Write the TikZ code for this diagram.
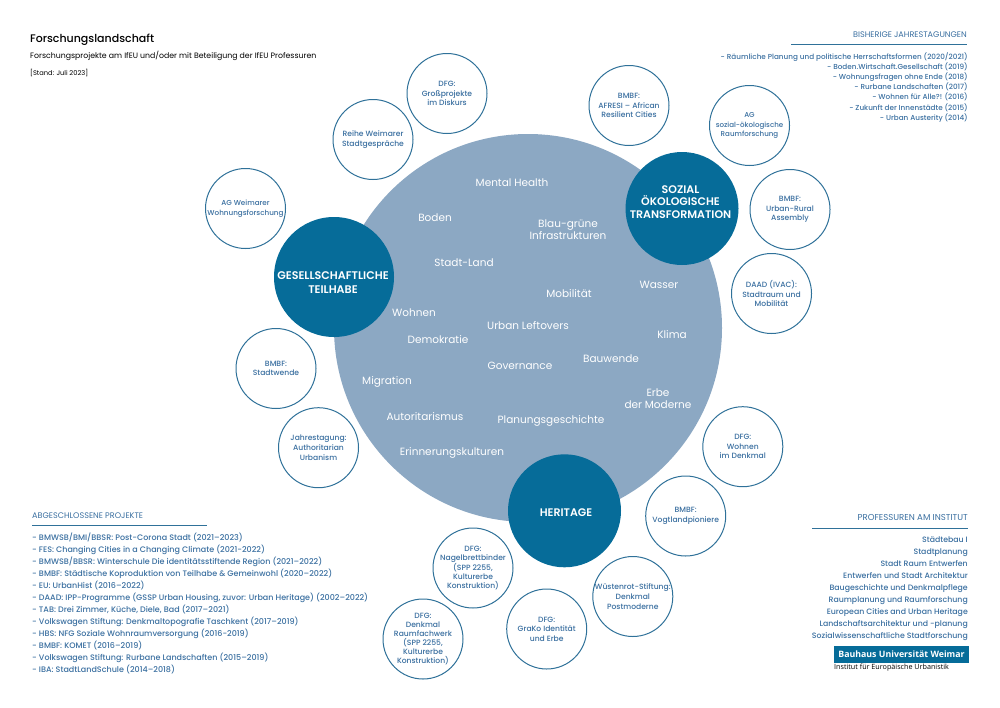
\documentclass[tikz,border=0pt]{standalone}
\usepackage{fontspec}
\setmainfont[BoldFont={Poppins SemiBold}]{Poppins}
\newfontfamily\mediumfont{Poppins Medium}
\newfontfamily\logofont{Open Sans}
\definecolor{ifeublue}{HTML}{3A6FA0}
\definecolor{ifeuteal}{HTML}{066C99}
\definecolor{ifeumain}{HTML}{8CA8C3}
\definecolor{ifeuline}{HTML}{2F7199}
\newcommand{\fsz}[2]{\fontsize{#1}{#2}\selectfont}
\tikzset{
  project/.style={circle,draw=ifeuline,line width=1pt,fill=white,minimum size=80,inner sep=0,align=center,text=ifeublue,font=\mediumfont\fsz{7.6}{9.6}},
  lifted/.style={execute at end node={\par\vspace{#1}}},
  theme/.style={circle,fill=ifeuteal,inner sep=0},
  themetext/.style={align=center,text=white,inner sep=0,font=\fsz{11}{12.8}\bfseries},
  topic/.style={align=center,text=white,inner sep=0,font=\fsz{10.5}{12.6}},
  head/.style={inner sep=0,text=ifeublue,font=\fsz{8.1}{10}},
  listing/.style={inner sep=0,text=ifeublue,font=\mediumfont\fsz{8}{12}},
  rulerline/.style={ifeuline,line width=1pt},
}
\begin{document}
\begin{tikzpicture}[x=1pt,y=-1pt]
  \useasboundingbox (0,0) rectangle (1000,707);
  % title block
  \node[anchor=west,inner sep=0,font=\mediumfont\fsz{11}{13}] (title) at (30,40) {Forschungslandschaft};
  \node[anchor=west,inner sep=0,font=\fsz{7.8}{9}] (subtitle) at (30,56) {Forschungsprojekte am IfEU und/oder mit Beteiligung der IfEU Professuren};
  \node[anchor=west,inner sep=0,font=\fsz{6.7}{8}] (stand) at (30,73) {[Stand: Juli 2023]};
  % main circle and themes
  \node[circle,fill=ifeumain,minimum size=388,inner sep=0] (main) at (528,328) {};
  \node[theme,minimum size=120] (teilhabe) at (334,277) {};
  \node[theme,minimum size=113] (sozial) at (682,208.5) {};
  \node[theme,minimum size=113] (heritage) at (564.5,510.8) {};
  \node[themetext,font=\fsz{11.1}{14.5}\bfseries] (teilhabetext) at (333,282.5) {GESELLSCHAFTLICHE\\TEILHABE};
  \node[themetext] (sozialtext) at (680.5,202) {SOZIAL\\ÖKOLOGISCHE\\TRANSFORMATION};
  \node[themetext] (heritagetext) at (566,513) {HERITAGE};
  % topics
  \node[topic] (mental) at (512,182.5) {Mental Health};
  \node[topic] (boden) at (435,217.5) {Boden};
  \node[topic] (blau) at (568,229.5) {Blau-grüne\\Infrastrukturen};
  \node[topic] (stadtland) at (464,262.5) {Stadt-Land};
  \node[topic] (mobil) at (569,294) {Mobilität};
  \node[topic] (wasser) at (659,284.5) {Wasser};
  \node[topic] (wohnen) at (414,313) {Wohnen};
  \node[topic] (leftovers) at (528,326) {Urban Leftovers};
  \node[topic] (klima) at (672,334.5) {Klima};
  \node[topic] (demokratie) at (438,340) {Demokratie};
  \node[topic] (bauwende) at (611,359) {Bauwende};
  \node[topic] (governance) at (520,366) {Governance};
  \node[topic] (migration) at (387,382) {Migration};
  \node[topic] (erbe) at (658,398.5) {Erbe\\der Moderne};
  \node[topic] (autoritarismus) at (425,417) {Autoritarismus};
  \node[topic] (geschichte) at (551,421) {Planungsgeschichte};
  \node[topic] (erinnerung) at (452,453) {Erinnerungskulturen};
  % projects
  \node[project] (gross) at (447,93.5) {DFG:\\Großprojekte\\im Diskurs};
  \node[project,lifted=7pt] (afresi) at (629,105.5) {BMBF:\\AFRESI – African\\Resilient Cities};
  \node[project,lifted=5pt,font=\mediumfont\fsz{7.1}{9.2}] (agsozial) at (749.5,125.5) {AG\\sozial-ökologische\\Raumforschung};
  \node[project] (rural) at (790,209.5) {BMBF:\\Urban-Rural\\Assembly};
  \node[project] (ivac) at (771.5,293.5) {DAAD (IVAC):\\Stadtraum und\\Mobilität};
  \node[project,lifted=6pt] (reihe) at (373,139.5) {Reihe Weimarer\\Stadtgespräche};
  \node[project,lifted=5pt,font=\mediumfont\fsz{7.2}{10}] (agwohnen) at (245.5,208.5) {AG Weimarer\\Wohnungsforschung};
  \node[project] (stadtwende) at (276,368.5) {BMBF:\\Stadtwende};
  \node[project] (jahrestagung) at (318.5,447.7) {Jahrestagung:\\Authoritarian\\Urbanism};
  \node[project] (denkmal) at (742.8,446.7) {DFG:\\Wohnen\\im Denkmal};
  \node[project] (vogtland) at (685.7,516) {BMBF:\\Vogtlandpioniere};
  \node[project] (wuestenrot) at (632.8,596.5) {Wüstenrot-Stiftung:\\Denkmal\\Postmoderne};
  \node[project] (grako) at (546.7,629) {DFG:\\GraKo Identität\\und Erbe};
  \node[project,font=\mediumfont\fsz{7.6}{9.1}] (nagel) at (473,568) {DFG:\\Nagelbrettbinder\\(SPP 2255,\\Kulturerbe\\Konstruktion)};
  \node[project,font=\mediumfont\fsz{7.6}{9.1}] (fachwerk) at (423,639) {DFG:\\Denkmal\\Raumfachwerk\\(SPP 2255,\\Kulturerbe\\Konstruktion)};
  % annual meetings
  \node[head,anchor=east] (jahr) at (967,35) {BISHERIGE JAHRESTAGUNGEN};
  \coordinate (jahrl) at (791,44);
  \coordinate (jahrr) at (967,44);
  \draw[rulerline] (jahrl) -- (jahrr);
  \node[listing,anchor=north east,align=right,font=\mediumfont\fsz{7.25}{10.2}] (jahrlist) at (968,52) {- Räumliche Planung und politische Herrschaftsformen (2020/2021)\\- Boden.Wirtschaft.Gesellschaft (2019)\\- Wohnungsfragen ohne Ende (2018)\\- Rurbane Landschaften (2017)\\- Wohnen für Alle?! (2016)\\- Zukunft der Innenstädte (2015)\\- Urban Austerity (2014)};
  % finished projects
  \node[head,anchor=west] (abg) at (32,516) {ABGESCHLOSSENE PROJEKTE};
  \coordinate (abgl) at (32,525);
  \coordinate (abgr) at (207,525);
  \draw[rulerline] (abgl) -- (abgr);
  \node[listing,anchor=north west,align=left] (abglist) at (32,532.5) {- BMWSB/BMI/BBSR: Post-Corona Stadt (2021–2023)\\- FES: Changing Cities in a Changing Climate (2021-2022)\\- BMWSB/BBSR: Winterschule Die identitätsstiftende Region (2021–2022)\\- BMBF: Städtische Koproduktion von Teilhabe \& Gemeinwohl (2020–2022)\\- EU: UrbanHist (2016–2022)\\- DAAD: IPP-Programme (GSSP Urban Housing, zuvor: Urban Heritage) (2002–2022)\\- TAB: Drei Zimmer, Küche, Diele, Bad (2017–2021)\\- Volkswagen Stiftung: Denkmaltopografie Taschkent (2017–2019)\\- HBS: NFG Soziale Wohnraumversorgung (2016-2019)\\- BMBF: KOMET (2016–2019)\\- Volkswagen Stiftung: Rurbane Landschaften (2015–2019)\\- IBA: StadtLandSchule (2014–2018)};
  % chairs
  \node[head,anchor=east,font=\fsz{8.6}{10}] (prof) at (968,517) {PROFESSUREN AM INSTITUT};
  \coordinate (profl) at (812,528);
  \coordinate (profr) at (968,528);
  \draw[rulerline] (profl) -- (profr);
  \node[listing,anchor=north east,align=right,font=\mediumfont\fsz{7.8}{12}] (proflist) at (968,537) {Städtebau I\\Stadtplanung\\Stadt Raum Entwerfen\\Entwerfen und Stadt Architektur\\Baugeschichte und Denkmalpflege\\Raumplanung und Raumforschung\\European Cities and Urban Heritage\\Landschaftsarchitektur und -planung\\Sozialwissenschaftliche Stadtforschung};
  % logo
  \node[fill=ifeuteal,minimum width=135,minimum height=17,inner sep=0,text=white,font=\logofont\fsz{8.8}{10}\bfseries] (logo) at (901.5,654) {Bauhaus Universität Weimar};
  \node[anchor=west,inner sep=0,font=\logofont\fsz{7.2}{8}] (institut) at (834,667.5) {Institut für Europäische Urbanistik};
\end{tikzpicture}
\end{document}
